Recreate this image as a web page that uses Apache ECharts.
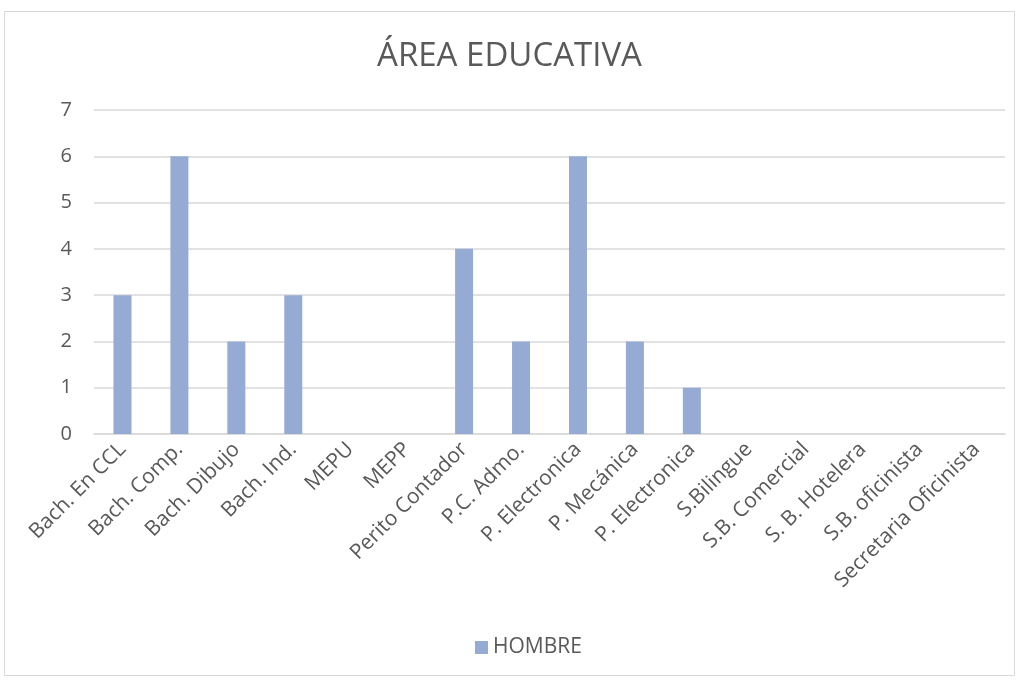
<!DOCTYPE html>
<html><head><meta charset="utf-8">
<script src="https://cdn.jsdelivr.net/npm/echarts@6/dist/echarts.min.js"></script>
<style>html,body{margin:0;padding:0;background:#fff}#c{width:1019px;height:680px}</style>
</head><body><div id="c"></div>
<script>
const categories = ["Bach. En CCL","Bach. Comp.","Bach. Dibujo","Bach. Ind.","MEPU","MEPP","Perito Contador","P.C. Admo.","P. Electronica","P. Mecánica","P. Electronica","S.Bilingue","S.B. Comercial","S. B. Hotelera","S.B. oficinista","Secretaria Oficinista"];
const hombre = [3,6,2,3,0,0,4,2,6,2,1,0,0,0,0,0];
const seriesName = "HOMBRE";
const titleText = "ÁREA EDUCATIVA";
const font = "'Open Sans', 'Noto Sans', sans-serif";
const chart = echarts.init(document.getElementById('c'), null, {renderer:'canvas'});
chart.setOption({
  animation:false,
  backgroundColor:'#fff',
  graphic:[{type:'rect',shape:{x:4.5,y:11.5,width:1010,height:664},style:{fill:'none',stroke:'#d9d9d9',lineWidth:1},silent:true}],
  title:{text:titleText,left:'center',top:35,textStyle:{fontFamily:font,fontSize:33,fontWeight:'normal',color:'#595959'}},
  legend:{top:632,left:470,itemWidth:13,itemHeight:13,itemGap:8,icon:'rect',textStyle:{fontFamily:font,fontSize:21,color:'#595959'},data:[seriesName]},
  grid:{left:94,right:14,top:110,bottom:246,containLabel:false},
  xAxis:{type:'category',data:categories,axisTick:{show:false},axisLine:{lineStyle:{color:'#d9d9d9',width:1.5}},
    axisLabel:{rotate:45,interval:0,fontFamily:font,fontSize:21,color:'#595959',margin:12}},
  yAxis:{type:'value',min:0,max:7,interval:1,axisLine:{show:false},axisTick:{show:false},
    splitLine:{lineStyle:{color:'#d9d9d9',width:1.5}},
    axisLabel:{fontFamily:font,fontSize:20,color:'#595959',margin:22}},
  series:[{name:seriesName,type:'bar',data:hombre,barWidth:18,itemStyle:{color:'#95abd3'}}]
});
</script></body></html>
